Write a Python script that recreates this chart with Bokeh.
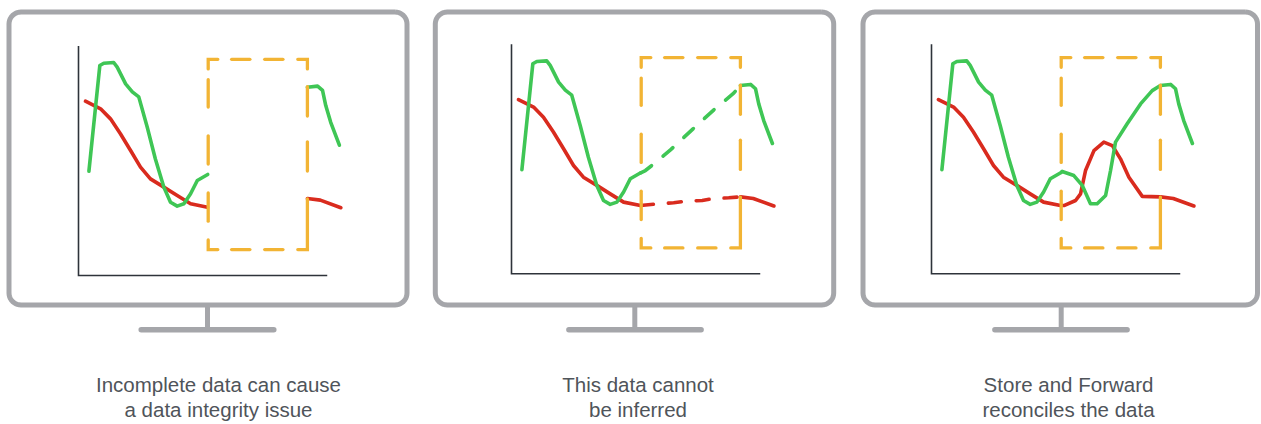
import math
from bokeh.plotting import figure
from bokeh.layouts import row
from bokeh.models import Range1d
from bokeh.core.properties import value
from bokeh.embed import file_html
from bokeh.resources import INLINE

# ---------------- data (chart units: both axes run 0..100) ----------------
# part of the series that every panel shows (before the outage)
red_known_x = [2.8, 8.9, 12.9, 16.9, 21.0, 25.0, 29.0, 34.4, 39.8, 45.2, 52.0]
red_known_y = [76.1, 72.8, 68.4, 61.9, 54.6, 47.3, 42.2, 38.6, 34.9, 31.3, 29.8]
green_known_x = [4.2, 8.6, 10.2, 14.2, 15.6, 19.0, 21.7, 24.3, 27.7, 31.0, 34.4,
                 37.1, 39.8, 42.5, 45.2, 47.9, 52.1]
green_known_y = [45.5, 91.7, 92.7, 93.0, 91.0, 83.7, 80.2, 78.0, 64.8, 50.9, 38.6,
                 32.0, 30.3, 31.3, 35.7, 41.5, 44.1]

# values recorded during the outage (stored and forwarded)
red_stored_x = [52.0, 53.4, 58.1, 60.1, 62.1, 65.5, 69.5, 72.9, 76.2, 79.6, 85.0, 92.3]
red_stored_y = [29.8, 29.8, 32.0, 34.9, 45.1, 53.8, 57.5, 56.0, 50.2, 42.2, 33.8, 33.6]
green_stored_x = [52.1, 52.7, 57.4, 60.8, 64.1, 66.8, 70.2, 72.2, 74.2, 78.9, 84.3, 89.0, 92.3]
green_stored_y = [44.1, 44.7, 42.9, 38.6, 30.6, 30.6, 34.2, 45.1, 57.5, 65.5, 74.2, 80.0, 82.2]

# straight guesses across the outage
red_inferred_x = [52.0, 59.4, 65.4, 70.2, 76.9, 80.9, 87.6, 92.3]
red_inferred_y = [29.8, 30.6, 31.0, 31.7, 32.0, 32.8, 33.2, 33.6]
green_inferred_x = [52.1, 54.0, 57.4, 64.1, 73.2, 81.6, 89.6, 92.3]
green_inferred_y = [44.1, 45.1, 48.0, 54.1, 63.3, 71.6, 78.9, 82.2]

# part after the outage
red_after_x = [92.3, 97.5, 105.8]
red_after_y = [33.6, 32.9, 29.6]
green_after_x = [92.3, 96.4, 98.4, 99.7, 101.7, 105.2]
green_after_y = [82.2, 82.7, 80.8, 74.2, 66.9, 56.9]

# outage window
gap_start, gap_end = 52.3, 92.3
gap_low, gap_high = 11.3, 94.4

captions = [
    ["Incomplete data can cause", "a data integrity issue"],
    ["This data cannot", "be inferred"],
    ["Store and Forward", "reconciles the data"],
]
kinds = ["gap", "inferred", "stored"]

# ---------------- styling / layout ----------------
GREEN = "#3fc655"
RED = "#d92b1e"
ORANGE = "#f2b434"
FRAME = "#a5a6aa"
AXIS = "#2e333a"
TEXT = "#4f545a"

SX, SY = 2.48, 2.29  # pixels per chart unit
PAGE_H = 424

panels = [
    dict(fig_left=0, fig_w=420, mon=(6, 409), ox=78, oy=275,
         neck=207, base=(138, 276), text_x=218),
    dict(fig_left=420, fig_w=427, mon=(432.3, 835.7), ox=511, oy=273.3,
         neck=634.3, base=(565.7, 703.3), text_x=637.5),
    dict(fig_left=847, fig_w=414, mon=(860, 1259.5), ox=931, oy=273.3,
         neck=1060.7, base=(991.7, 1129.3), text_x=1068),
]
MON_TOP, MON_BOT, FRAME_W, RADIUS = 9, 307, 5, 12
BASE_Y = 329.3
TEXT_BASELINES = [384, 409]

H_PATTERN = [11, 11, 21, 12, 21, 12, 11]
VL_PATTERN = [11, 8, 30, 26, 31, 26, 31, 16, 11]
VR_PATTERN = [11, 15, 32, 23, 32, 25, 52]
BOX_W = 3.3


def pieces(pattern, length):
    f = length / sum(pattern)
    out, pos = [], 0.0
    for i, L in enumerate(pattern):
        if i % 2 == 0:
            out.append((pos, pos + L * f))
        pos += L * f
    return out


def make_panel(cfg, lines):
    ox, oy = cfg["ox"], cfg["oy"]
    fl, fw = cfg["fig_left"], cfg["fig_w"]
    x0 = (fl - ox) / SX
    x1 = x0 + fw / SX
    y_top = oy / SY
    y_bot = (oy - PAGE_H) / SY
    p = figure(width=fw, height=PAGE_H, x_range=Range1d(x0, x1), y_range=Range1d(y_bot, y_top),
               toolbar_location=None, output_backend="svg", min_border=0,
               x_axis_location=None, y_axis_location=None, outline_line_color=None,
               background_fill_color="white", border_fill_color="white")
    p.xgrid.visible = False
    p.ygrid.visible = False

    ux = lambda px: (px - ox) / SX
    vy = lambda py: (oy - py) / SY

    # monitor frame (rounded rectangle)
    l, r = cfg["mon"][0] + FRAME_W / 2, cfg["mon"][1] - FRAME_W / 2
    t, b = MON_TOP + FRAME_W / 2, MON_BOT - FRAME_W / 2
    pts = []
    for cx, cy, a0 in [(r - RADIUS, t + RADIUS, -90), (r - RADIUS, b - RADIUS, 0),
                       (l + RADIUS, b - RADIUS, 90), (l + RADIUS, t + RADIUS, 180)]:
        for k in range(11):
            a = math.radians(a0 + 9 * k)
            pts.append((cx + RADIUS * math.cos(a), cy + RADIUS * math.sin(a)))
    pts.append(pts[0])
    p.line([ux(a) for a, _ in pts], [vy(c) for _, c in pts], line_color=FRAME,
           line_width=FRAME_W, line_join="round")
    # stand
    p.line([ux(cfg["neck"])] * 2, [vy(b), vy(BASE_Y)], line_color=FRAME, line_width=FRAME_W)
    p.line([ux(cfg["base"][0] + 2.7), ux(cfg["base"][1] - 2.7)], [vy(BASE_Y)] * 2,
           line_color=FRAME, line_width=5.5, line_cap="round")

    # chart axes
    p.line([0, 0, 100.3], [100.2, 0, 0], line_color=AXIS, line_width=1.6, line_join="miter")

    # series
    for xs, ys, dash, col in lines:
        p.line(xs, ys, line_color=col, line_width=3.6, line_join="round", line_cap="round",
               line_dash=dash)

    # dashed outage window
    bl, br = ox + gap_start * SX, ox + gap_end * SX
    bt, bb = oy - gap_high * SY, oy - gap_low * SY
    W, H = br - bl, bb - bt
    hp = pieces(H_PATTERN, W)
    vl = pieces(VL_PATTERN, H)
    vr = pieces(VR_PATTERN, H)
    c = 1.4
    xs_all, ys_all = [], []
    corners = [
        [(bl, bt + vl[0][1] - c), (bl, bt), (bl + hp[0][1] - c, bt)],
        [(br - (W - hp[-1][0]) + c, bt), (br, bt), (br, bt + vr[0][1] - c)],
        [(br, bt + vr[-1][0] + c), (br, bb), (br - (W - hp[-1][0]) + c, bb)],
        [(bl + hp[0][1] - c, bb), (bl, bb), (bl, bt + vl[-1][0] + c)],
    ]
    for cpts in corners:
        xs_all.append([ux(a) for a, _ in cpts])
        ys_all.append([vy(q) for _, q in cpts])
    for a, z in hp[1:-1]:
        for yy in (bt, bb):
            xs_all.append([ux(bl + a + c), ux(bl + z - c)])
            ys_all.append([vy(yy), vy(yy)])
    for a, z in vl[1:-1]:
        xs_all.append([ux(bl), ux(bl)])
        ys_all.append([vy(bt + a + c), vy(bt + z - c)])
    for a, z in vr[1:-1]:
        xs_all.append([ux(br), ux(br)])
        ys_all.append([vy(bt + a + c), vy(bt + z - c)])
    p.multi_line(xs_all, ys_all, line_color=ORANGE, line_width=BOX_W, line_cap="round",
                 line_join="miter")
    return p, ux, vy


figs = []
for i, (cfg, kind) in enumerate(zip(panels, kinds)):
    if kind == "gap":
        lines = [(red_known_x, red_known_y, "solid", RED),
                 (red_after_x, red_after_y, "solid", RED),
                 (green_known_x, green_known_y, "solid", GREEN),
                 (green_after_x, green_after_y, "solid", GREEN)]
    elif kind == "inferred":
        lines = [(red_known_x, red_known_y, "solid", RED),
                 (red_inferred_x, red_inferred_y, "13 15", RED),
                 (red_after_x, red_after_y, "solid", RED),
                 (green_known_x, green_known_y, "solid", GREEN),
                 (green_inferred_x, green_inferred_y, "13 15", GREEN),
                 (green_after_x, green_after_y, "solid", GREEN)]
    else:
        lines = [(red_known_x + red_stored_x + red_after_x,
                  red_known_y + red_stored_y + red_after_y, "solid", RED),
                 (green_known_x + green_stored_x + green_after_x,
                  green_known_y + green_stored_y + green_after_y, "solid", GREEN)]
    p, ux, vy = make_panel(cfg, lines)
    p.text(x=[ux(cfg["text_x"])] * 2, y=[vy(bl) for bl in TEXT_BASELINES], text=captions[i],
           text_align="center", text_baseline="alphabetic", text_color=TEXT,
           text_font=value("Liberation Sans"), text_font_size="20.5px")
    figs.append(p)

layout = row(*figs, spacing=0)
open("out.html", "w").write(file_html(layout, INLINE))
